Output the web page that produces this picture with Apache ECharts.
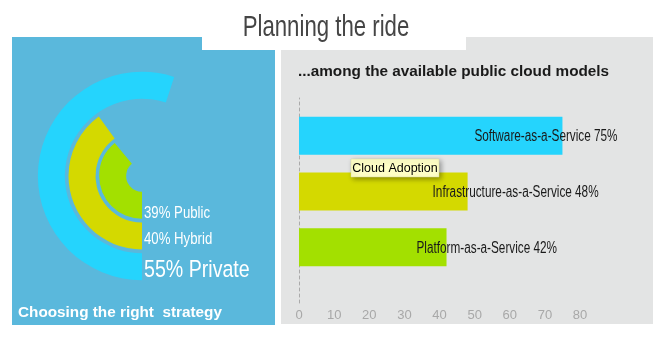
<!DOCTYPE html>
<html><head><meta charset="utf-8">
<script src="https://cdn.jsdelivr.net/npm/echarts@6/dist/echarts.min.js"></script>
<style>html,body{margin:0;padding:0;background:#fff}#c{width:664px;height:344px}</style>
</head><body><div id="c"></div><script>
// ---- data ----
const pageTitle = 'Planning the ride';
const leftCaption = 'Choosing the right  strategy';
const rightCaption = '...among the available public cloud models';
const tooltipText = 'Cloud Adoption';
const strategyNames = ['Public', 'Hybrid', 'Private'];
const strategyValues = [39, 40, 55];
const modelNames = ['Software-as-a-Service', 'Infrastructure-as-a-Service', 'Platform-as-a-Service'];
const modelValues = [75, 48, 42];
const xTickMin = 0, xTickMax = 80, xTickStep = 10;

// ---- styling ----
const ringColors = ['#a3e000', '#d4d900', '#25d4fd'];
const barColors = ['#25d4fd', '#d4d900', '#a3e000'];
const labelOffsets = [-88, -35, -30];
const stratLabelY = [213, 239, 270];
const stratLabelSize = [16.5, 16.5, 24.5];
const NARROW = 0.74;

const chart = echarts.init(document.getElementById('c'), null, {renderer: 'canvas'});

const graphics = [
  {type: 'rect', z: -10, shape: {x: 12, y: 37, width: 263, height: 288}, style: {fill: '#5ab8dc'}},
  {type: 'rect', z: -10, shape: {x: 281, y: 37, width: 372, height: 287}, style: {fill: '#e3e4e4'}},
  {type: 'rect', z: -9, shape: {x: 202, y: 0, width: 264, height: 50}, style: {fill: '#ffffff'}},
  {type: 'text', z: 5, x: 326, y: 28, scaleX: NARROW, style: {text: pageTitle, fill: '#454545', font: '30px "Liberation Sans"', align: 'center', verticalAlign: 'middle'}},
  {type: 'text', z: 5, x: 18, y: 313, style: {text: leftCaption, fill: '#fff', font: 'bold 15.3px "Liberation Sans"', align: 'left', verticalAlign: 'middle'}},
  {type: 'text', z: 5, x: 298, y: 72, style: {text: rightCaption, fill: '#1a1a1a', font: 'bold 15.3px "Liberation Sans"', align: 'left', verticalAlign: 'middle'}}
];
strategyNames.forEach((n, i) => {
  graphics.push({type: 'text', z: 5, x: 144, y: stratLabelY[i], scaleX: 0.8, style: {
    text: strategyValues[i] + '% ' + n, fill: '#fff',
    font: stratLabelSize[i] + 'px "Liberation Sans"', align: 'left', verticalAlign: 'middle'}});
});
graphics.push({type: 'group', z: 50, x: 351, y: 159, children: [
  {type: 'rect', z: 50, shape: {x: 0, y: 0, width: 88, height: 18}, style: {fill: '#ffffc6', stroke: '#d8d8a0', lineWidth: 0.5, shadowBlur: 5, shadowOffsetX: 2, shadowOffsetY: 2, shadowColor: 'rgba(0,0,0,0.35)'}},
  {type: 'text', z: 51, x: 44, y: 9.5, style: {text: tooltipText, fill: '#000', font: '12.5px "Liberation Sans"', align: 'center', verticalAlign: 'middle'}}
]});

const option = {
  animation: false,
  graphic: graphics,
  polar: {center: [142, 176], radius: [14, 106]},
  angleAxis: {type: 'value', min: 0, max: 100, startAngle: 270, clockwise: true, show: false},
  radiusAxis: {type: 'category', data: strategyNames, show: false},
  grid: [
    {left: 299, right: 84, top: 108, bottom: 69},
    {left: 299, right: 84, top: 98, bottom: 41}
  ],
  xAxis: [
    {gridIndex: 0, type: 'value', min: xTickMin, max: xTickMax, interval: xTickStep, show: false},
    {gridIndex: 1, type: 'value', min: xTickMin, max: xTickMax, interval: xTickStep,
     axisLine: {show: false}, axisTick: {show: false}, splitLine: {show: false},
     axisLabel: {color: '#a8a8a8', fontSize: 13, margin: 6, fontFamily: 'Liberation Sans'}}
  ],
  yAxis: [
    {gridIndex: 0, type: 'category', data: modelNames, inverse: true, show: false},
    {gridIndex: 1, type: 'category', data: [''], axisLine: {show: true, lineStyle: {type: [3, 3], color: '#aaaaaa', width: 1}},
     axisTick: {show: false}, axisLabel: {show: false}, splitLine: {show: false}}
  ],
  series: [
    {type: 'bar', coordinateSystem: 'polar', barCategoryGap: '12%', silent: true,
     data: strategyValues.map((v, i) => ({value: v, itemStyle: {color: ringColors[i]}}))},
    {type: 'bar', xAxisIndex: 0, yAxisIndex: 0, barWidth: 38, silent: true,
     data: modelValues.map((v, i) => ({value: v, itemStyle: {color: barColors[i]}}))},
    {type: 'custom', xAxisIndex: 0, yAxisIndex: 0, silent: true, z: 5,
     encode: {x: 0, y: 1},
     data: modelValues.map((v, i) => [v, i]),
     renderItem: (params, api) => {
       const v = api.value(0), idx = api.value(1);
       const p = api.coord([v, idx]);
       return {type: 'text', x: p[0] + labelOffsets[params.dataIndex], y: p[1] + 1, scaleX: 0.735,
         style: {text: modelNames[idx] + ' ' + v + '%', fill: '#1a1a1a', font: '16px "Liberation Sans"', align: 'left', verticalAlign: 'middle'}};
     }}
  ]
};
chart.setOption(option);
</script></body></html>
